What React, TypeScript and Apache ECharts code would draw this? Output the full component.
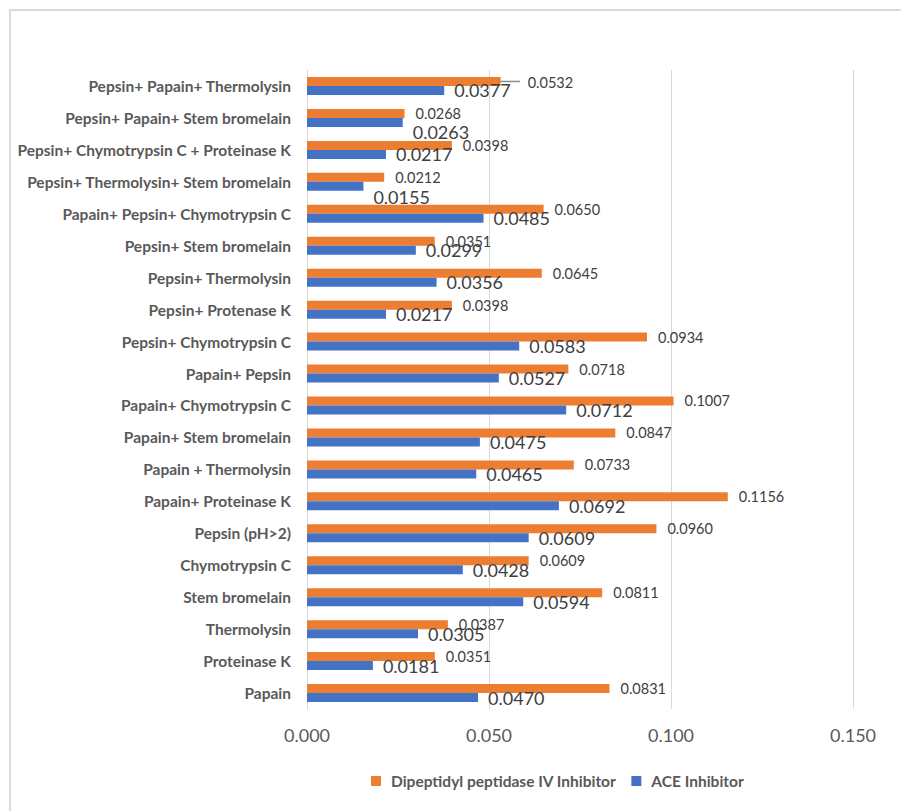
import React, { useEffect, useRef } from "react";
import * as echarts from "echarts";

// Categories listed top to bottom
const categories = [
  "Pepsin+ Papain+ Thermolysin",
  "Pepsin+ Papain+ Stem bromelain",
  "Pepsin+ Chymotrypsin C + Proteinase K",
  "Pepsin+ Thermolysin+ Stem bromelain",
  "Papain+ Pepsin+ Chymotrypsin C",
  "Pepsin+ Stem bromelain",
  "Pepsin+ Thermolysin",
  "Pepsin+ Protenase K",
  "Pepsin+ Chymotrypsin C",
  "Papain+ Pepsin",
  "Papain+ Chymotrypsin C",
  "Papain+ Stem bromelain",
  "Papain + Thermolysin",
  "Papain+ Proteinase K",
  "Pepsin (pH>2)",
  "Chymotrypsin C",
  "Stem bromelain",
  "Thermolysin",
  "Proteinase K",
  "Papain",
];

const dppValues = [
  0.0532, 0.0268, 0.0398, 0.0212, 0.065, 0.0351, 0.0645, 0.0398, 0.0934, 0.0718,
  0.1007, 0.0847, 0.0733, 0.1156, 0.096, 0.0609, 0.0811, 0.0387, 0.0351, 0.0831,
];

const aceValues = [
  0.0377, 0.0263, 0.0217, 0.0155, 0.0485, 0.0299, 0.0356, 0.0217, 0.0583, 0.0527,
  0.0712, 0.0475, 0.0465, 0.0692, 0.0609, 0.0428, 0.0594, 0.0305, 0.0181, 0.047,
];

// error bar seen on the top DPP bar: [category index, value, error]
const dppErrors = [[0, 0.0532, 0.0053]];

const xTicks = [0, 0.05, 0.1, 0.15];

const seriesNames = ["Dipeptidyl peptidase IV Inhibitor", "ACE Inhibitor"];

// label nudges (px) where the reference places labels differently
const aceLabelNudge: Record<number, number[]> = { 1: [0, 10], 3: [0, 11] };
const dppLabelNudge: Record<number, number[]> = { 0: [16, 1] };

export default function App() {
  const ref = useRef<HTMLDivElement>(null);

  useEffect(() => {
    if (!ref.current) return;
    const chart = echarts.init(ref.current, null, { renderer: "svg" });
    const textColor = "#404040";
    const axisColor = "#595959";
    const font = "Lato, 'Open Sans', sans-serif";

    const withNudge = (vals: number[], nudge: Record<number, number[]>) =>
      vals.map((v, i) =>
        nudge[i] !== undefined ? { value: v, label: { offset: nudge[i] } } : v
      );

    chart.setOption({
      animation: false,
      backgroundColor: "#ffffff",
      textStyle: { fontFamily: font },
      graphic: [
        {
          type: "rect",
          shape: { x: 10, y: 10, width: 1000, height: 1000 },
          style: { fill: "none", stroke: "#d9d9d9", lineWidth: 2 },
          silent: true,
          z: -10,
        },
      ],
      legend: {
        data: seriesNames,
        left: 366,
        top: 768,
        itemWidth: 10,
        itemHeight: 10,
        itemGap: 15,
        icon: "rect",
        textStyle: {
          fontFamily: font,
          fontSize: 15.5,
          fontWeight: "bold",
          color: axisColor,
          padding: [0, 0, 0, 5],
        },
      },
      grid: { left: 307, right: 48, top: 70, bottom: 102, containLabel: false },
      xAxis: {
        type: "value",
        min: xTicks[0],
        max: xTicks[xTicks.length - 1],
        interval: 0.05,
        axisLine: { show: false },
        axisTick: { show: false },
        splitLine: { show: true, lineStyle: { color: "#d9d9d9", width: 1 } },
        axisLabel: {
          formatter: (v: number) => v.toFixed(3),
          fontSize: 18,
          color: axisColor,
          margin: 17,
          fontFamily: font,
        },
      },
      yAxis: {
        type: "category",
        inverse: true,
        data: categories,
        axisLine: { show: true, lineStyle: { color: "#d9d9d9", width: 1 } },
        axisTick: { show: false },
        axisLabel: {
          fontSize: 15.5,
          fontWeight: "bold",
          color: axisColor,
          margin: 16,
          fontFamily: font,
        },
      },
      series: [
        {
          name: seriesNames[0],
          type: "bar",
          data: withNudge(dppValues, dppLabelNudge),
          barWidth: 9,
          barGap: "0%",
          itemStyle: { color: "#ED7D31" },
          label: {
            show: true,
            position: "right",
            distance: 11,
            formatter: (p: any) => Number(p.value).toFixed(4),
            fontSize: 14.5,
            color: textColor,
            fontFamily: font,
          },
        },
        {
          name: seriesNames[1],
          type: "bar",
          data: withNudge(aceValues, aceLabelNudge),
          barWidth: 9,
          barGap: "0%",
          itemStyle: { color: "#4472C4" },
          label: {
            show: true,
            position: "right",
            distance: 10,
            formatter: (p: any) => Number(p.value).toFixed(4),
            fontSize: 18,
            color: textColor,
            fontFamily: font,
          },
        },
        {
          type: "custom",
          name: "err",
          data: dppErrors,
          encode: { x: [1], y: 0 },
          z: 5,
          renderItem: (params: any, api: any) => {
            const cat = api.value(0);
            const v = api.value(1);
            const e = api.value(2);
            const a = api.coord([v, cat]);
            const b = api.coord([v + e, cat]);
            const dy = -4.5;
            return {
              type: "line",
              shape: { x1: a[0], y1: a[1] + dy, x2: b[0], y2: b[1] + dy },
              style: { stroke: "#8c8c8c", lineWidth: 1.5 },
            };
          },
        },
      ],
    });

    return () => chart.dispose();
  }, []);

  return (
    <div
      ref={ref}
      style={{ position: "fixed", left: 0, top: 0, width: 901, height: 811 }}
    />
  );
}
